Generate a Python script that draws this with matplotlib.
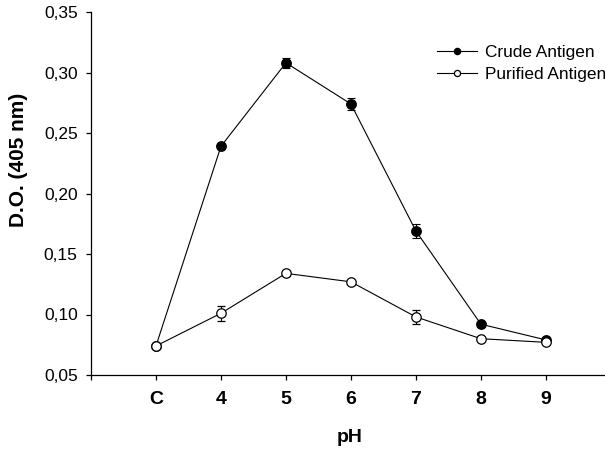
import matplotlib
matplotlib.use("Agg")
import matplotlib.pyplot as plt
from matplotlib.ticker import FuncFormatter

plt.rcParams['font.family'] = ['Liberation Sans', 'DejaVu Sans']

# data
categories = ["C", "4", "5", "6", "7", "8", "9"]
crude = [0.074, 0.239, 0.308, 0.274, 0.169, 0.092, 0.079]
crude_err = [0.0, 0.002, 0.004, 0.005, 0.006, 0.002, 0.0]
purified = [0.074, 0.101, 0.134, 0.127, 0.098, 0.080, 0.077]
purified_err = [0.002, 0.006, 0.002, 0.0, 0.006, 0.0, 0.0]

x = list(range(1, len(categories) + 1))

fig = plt.figure(figsize=(6.05, 4.51), dpi=100)
ax = fig.add_axes([91 / 605, 1 - 375 / 451, 1 - 91 / 605, (375 - 12) / 451])

c1 = ax.errorbar(x, crude, yerr=crude_err, color='black', marker='o', markersize=6.8,
                 markerfacecolor='black', markeredgecolor='black', linewidth=0.8,
                 elinewidth=0.8, capsize=3, capthick=0.8, zorder=2)
c2 = ax.errorbar(x, purified, yerr=purified_err, color='black', marker='o', markersize=6.8,
                 markerfacecolor='white', markeredgecolor='black', markeredgewidth=0.9,
                 linewidth=0.8, elinewidth=0.8, capsize=3, capthick=0.8, zorder=3)

ax.set_xlim(0, 7.91)
ax.set_ylim(0.05, 0.35)
ax.set_xticks([0] + x)
ax.set_xticklabels([""] + categories, fontsize=14, fontweight='bold')
ax.set_yticks([0.05, 0.10, 0.15, 0.20, 0.25, 0.30, 0.35])
ax.yaxis.set_major_formatter(FuncFormatter(lambda v, p: f"{v:.2f}".replace('.', ',')))
ax.tick_params(axis='y', labelsize=12.5, length=3.6, width=0.9, pad=6)
ax.tick_params(axis='x', length=3.6, width=0.9, pad=8)

for side in ['top', 'right']:
    ax.spines[side].set_visible(False)
for side in ['left', 'bottom']:
    ax.spines[side].set_linewidth(0.9)

ax.set_xlabel("pH", fontsize=14, fontweight='bold')
ax.xaxis.set_label_coords((350 - 91) / (605 - 91), -(429 - 375) / (375 - 12), transform=ax.transAxes)
ax.set_ylabel("D.O. (405 nm)", fontsize=15, fontweight='bold')
ax.yaxis.set_label_coords(-(91 - 28) / (605 - 91), (375 - 160) / (375 - 12), transform=ax.transAxes)

fig.legend([c1[0], c2[0]], ['Crude Antigen', 'Purified Antigen'],
           loc='upper left', bbox_to_anchor=(437 / 605, 1 - 45 / 451), frameon=False,
           fontsize=12.4, markerscale=0.65, handlelength=2.3, handletextpad=0.5,
           borderpad=0, borderaxespad=0, labelspacing=0.4)

fig.savefig("out.png", dpi=100)
